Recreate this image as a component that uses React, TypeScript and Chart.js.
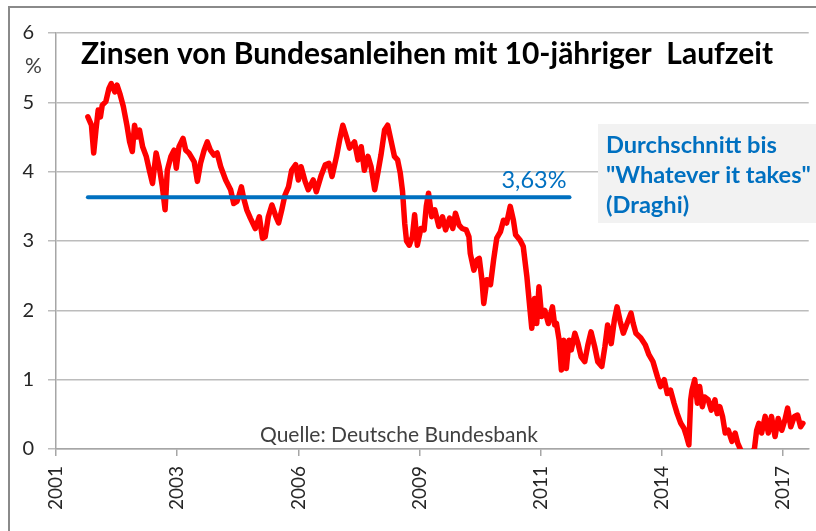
import React, { useEffect, useRef } from 'react';
import { Chart, registerables } from 'chart.js';

Chart.register(...registerables);

// ---- data (decimal years, yield in %) ----
const years: number[] = [
  2001.71, 2001.79, 2001.84, 2001.89, 2001.94, 2001.99, 2002.03, 2002.11, 2002.18, 2002.23,
  2002.31, 2002.36, 2002.43, 2002.50, 2002.58, 2002.64, 2002.70, 2002.75, 2002.80, 2002.86,
  2002.93, 2003.01, 2003.08, 2003.15, 2003.23, 2003.30, 2003.37, 2003.43, 2003.48, 2003.56,
  2003.63, 2003.68, 2003.74, 2003.83, 2003.89, 2003.96, 2004.08, 2004.15, 2004.22, 2004.30,
  2004.37, 2004.44, 2004.52, 2004.59, 2004.67, 2004.78, 2004.89, 2004.96, 2005.03, 2005.07,
  2005.13, 2005.18, 2005.25, 2005.33, 2005.44, 2005.53, 2005.60, 2005.66, 2005.73, 2005.81,
  2005.90, 2005.96, 2006.03, 2006.10, 2006.18, 2006.25, 2006.34, 2006.40, 2006.46, 2006.55,
  2006.62, 2006.73, 2006.80, 2006.91, 2007.00, 2007.08, 2007.15, 2007.25, 2007.32, 2007.39,
  2007.47, 2007.54, 2007.65, 2007.73, 2007.80, 2007.87, 2007.95, 2008.02, 2008.10, 2008.17,
  2008.24, 2008.32, 2008.39, 2008.46, 2008.54, 2008.61, 2008.67, 2008.72, 2008.77, 2008.81,
  2008.87, 2008.94, 2008.99, 2009.05, 2009.13, 2009.20, 2009.25, 2009.30, 2009.37, 2009.44,
  2009.53, 2009.61, 2009.68, 2009.77, 2009.84, 2009.90, 2009.98, 2010.05, 2010.14, 2010.20,
  2010.23, 2010.31, 2010.38, 2010.43, 2010.49, 2010.53, 2010.60, 2010.68, 2010.75, 2010.82,
  2010.90, 2010.97, 2011.04, 2011.12, 2011.19, 2011.24, 2011.34, 2011.41, 2011.49, 2011.54,
  2011.60, 2011.66, 2011.71, 2011.76, 2011.82, 2011.89, 2011.97, 2012.06, 2012.11, 2012.15,
  2012.21, 2012.26, 2012.31, 2012.37, 2012.43, 2012.48, 2012.56, 2012.63, 2012.70, 2012.78,
  2012.85, 2012.92, 2013.00, 2013.07, 2013.16, 2013.23, 2013.29, 2013.37, 2013.44, 2013.50,
  2013.57, 2013.64, 2013.71, 2013.81, 2013.86, 2013.92, 2014.03, 2014.13, 2014.21, 2014.30,
  2014.40, 2014.47, 2014.55, 2014.62, 2014.69, 2014.77, 2014.84, 2014.92, 2014.99, 2015.04,
  2015.10, 2015.14, 2015.17, 2015.23, 2015.29, 2015.34, 2015.40, 2015.45, 2015.53, 2015.60,
  2015.68, 2015.73, 2015.79, 2015.85, 2015.91, 2015.98, 2016.06, 2016.13, 2016.19, 2016.28,
  2016.39, 2016.50, 2016.56, 2016.61, 2016.66, 2016.72, 2016.80, 2016.87, 2016.94, 2017.02,
  2017.09, 2017.17, 2017.24, 2017.30, 2017.37, 2017.45, 2017.52, 2017.59, 2017.64,
];

const yields: number[] = [
  4.79, 4.67, 4.27, 4.60, 4.89, 4.79, 4.96, 5.01, 5.20, 5.27,
  5.15, 5.25, 5.11, 4.94, 4.67, 4.43, 4.29, 4.67, 4.50, 4.60,
  4.36, 4.22, 4.02, 3.83, 4.27, 4.07, 3.78, 3.45, 4.02, 4.22,
  4.31, 4.05, 4.36, 4.48, 4.31, 4.27, 4.14, 3.86, 4.12, 4.31,
  4.43, 4.31, 4.24, 4.27, 4.07, 3.88, 3.74, 3.54, 3.57, 3.64,
  3.78, 3.62, 3.45, 3.33, 3.18, 3.35, 3.04, 3.06, 3.35, 3.52,
  3.35, 3.26, 3.45, 3.66, 3.78, 4.02, 4.10, 3.88, 4.07, 3.86,
  3.74, 3.88, 3.71, 3.95, 4.10, 4.12, 3.93, 4.22, 4.46, 4.67,
  4.50, 4.34, 4.43, 4.17, 4.36, 4.02, 4.22, 4.07, 3.74, 3.98,
  4.24, 4.60, 4.67, 4.46, 4.22, 4.17, 3.98, 3.72, 3.25, 3.00,
  2.94, 3.06, 3.38, 2.94, 3.18, 3.16, 3.50, 3.69, 3.35, 3.45,
  3.21, 3.35, 3.16, 3.33, 3.18, 3.40, 3.23, 3.18, 3.16, 3.06,
  2.82, 2.58, 2.73, 2.75, 2.44, 2.10, 2.44, 2.37, 2.73, 3.04,
  3.13, 3.30, 3.26, 3.50, 3.30, 3.09, 3.01, 2.92, 2.49, 2.15,
  1.74, 2.17, 1.81, 2.34, 1.91, 2.00, 1.81, 2.05, 1.79, 1.81,
  1.57, 1.14, 1.57, 1.16, 1.57, 1.43, 1.67, 1.52, 1.33, 1.26,
  1.50, 1.69, 1.48, 1.26, 1.19, 1.48, 1.79, 1.52, 1.86, 2.05,
  1.84, 1.67, 1.79, 1.96, 1.81, 1.67, 1.60, 1.50, 1.36, 1.26,
  1.04, 0.90, 1.00, 0.80, 0.85, 0.66, 0.51, 0.37, 0.30, 0.20,
  0.06, 0.71, 0.85, 1.00, 0.66, 0.90, 0.61, 0.75, 0.71, 0.56,
  0.71, 0.51, 0.61, 0.47, 0.23, 0.27, 0.11, 0.23, 0.08, -0.05,
  -0.15, -0.05, 0.00, 0.27, 0.37, 0.23, 0.47, 0.23, 0.47, 0.18,
  0.44, 0.27, 0.42, 0.59, 0.32, 0.47, 0.49, 0.32, 0.37,
];

const averageValue = 3.63;
const averageStart = 2001.71;
const averageEnd = 2012.44;

const xTickValues: number[] = [2001, 2003.7, 2006.4, 2009.1, 2011.8, 2014.5, 2017.2];
const xTickLabels: string[] = ['2001', '2003', '2006', '2009', '2011', '2014', '2017'];
const yTickValues: number[] = [0, 1, 2, 3, 4, 5, 6];

const titleText = 'Zinsen von Bundesanleihen mit 10-jähriger  Laufzeit';
const noteLines: string[] = ['Durchschnitt bis', '"Whatever it takes"', '(Draghi)'];
const averageLabel = '3,63%';
const sourceText = 'Quelle: Deutsche Bundesbank';
const unitText = '%';

const FONT = 'Lato, "Liberation Sans", Arial, sans-serif';
const BLUE = '#0070C0';

function fittedFont(ctx: CanvasRenderingContext2D, text: string, weight: string, width: number) {
  ctx.font = `${weight} 20px ${FONT}`;
  const w = ctx.measureText(text).width;
  const size = (20 * width) / w;
  return `${weight} ${size.toFixed(2)}px ${FONT}`;
}

const overlayPlugin = {
  id: 'overlay',
  afterDraw(chart: any) {
    const ctx: CanvasRenderingContext2D = chart.ctx;
    const xs = chart.scales.x;
    const ys = chart.scales.y;
    ctx.save();
    ctx.textAlign = 'left';
    ctx.textBaseline = 'alphabetic';

    // note box
    ctx.fillStyle = '#f2f2f2';
    ctx.fillRect(598, 124, 230, 99);
    ctx.fillStyle = BLUE;
    const noteFont = fittedFont(ctx, noteLines[1], 'bold', 205);
    noteLines.forEach((line, i) => {
      ctx.font = noteFont;
      ctx.fillText(line, 606, 153 + i * 30);
    });

    // average label
    ctx.font = fittedFont(ctx, averageLabel, 'normal', 65);
    ctx.textAlign = 'right';
    ctx.fillText(averageLabel, xs.getPixelForValue(averageEnd) - 3, ys.getPixelForValue(averageValue) - 9);
    ctx.textAlign = 'left';

    // title
    ctx.fillStyle = '#000000';
    ctx.font = fittedFont(ctx, titleText, 'bold', 692);
    ctx.fillText(titleText, 81, 64);

    // source
    ctx.fillStyle = '#404040';
    ctx.font = fittedFont(ctx, sourceText, 'normal', 278);
    ctx.fillText(sourceText, 260, 442);

    // unit
    ctx.fillStyle = '#404040';
    ctx.font = `normal 21px ${FONT}`;
    ctx.fillText(unitText, 25, 73);

    // outer frame
    ctx.strokeStyle = '#8a8a8a';
    ctx.lineWidth = 2;
    ctx.strokeRect(9, 7, 900, 600);
    ctx.restore();
  },
};

export default function App() {
  const canvasRef = useRef<HTMLCanvasElement | null>(null);

  useEffect(() => {
    document.body.style.margin = '0';
    const canvas = canvasRef.current;
    if (!canvas) return;

    const redPoints = years.map((x, i) => ({ x, y: yields[i] }));
    const bluePoints = [
      { x: averageStart, y: averageValue },
      { x: averageEnd, y: averageValue },
    ];

    const chart = new Chart(canvas, {
      type: 'line',
      data: {
        datasets: [
          {
            label: 'Durchschnitt',
            data: bluePoints,
            borderColor: BLUE,
            borderWidth: 4,
            borderCapStyle: 'round',
            pointRadius: 0,
            fill: false,
          },
          {
            label: 'Rendite',
            data: redPoints,
            borderColor: '#ff0000',
            borderWidth: 5.5,
            borderJoinStyle: 'round',
            borderCapStyle: 'round',
            pointRadius: 0,
            tension: 0,
            fill: false,
            clip: { left: 10, top: 10, right: 10, bottom: 0 },
          } as any,
        ],
      },
      options: {
        animation: false,
        responsive: false,
        devicePixelRatio: 1,
        layout: { padding: { top: 33, right: 2, left: 0, bottom: 0 } },
        plugins: {
          legend: { display: false },
          tooltip: { enabled: false },
          title: { display: false },
        },
        scales: {
          x: {
            type: 'linear',
            min: 2001,
            max: 2017.77,
            afterBuildTicks: (scale: any) => {
              scale.ticks = xTickValues.map((v) => ({ value: v }));
            },
            afterFit: (scale: any) => {
              scale.height = 82;
            },
            ticks: {
              autoSkip: false,
              minRotation: 90,
              maxRotation: 90,
              padding: 10,
              color: '#262626',
              font: { family: FONT, size: 19 },
              callback: (v: any) => {
                const i = xTickValues.indexOf(Number(v));
                return i >= 0 ? xTickLabels[i] : '';
              },
            },
            grid: {
              drawOnChartArea: false,
              drawTicks: true,
              tickLength: 7,
              color: '#a6a6a6',
              lineWidth: 1.5,
            },
            border: { display: true, color: '#a6a6a6', width: 1.5 },
          },
          y: {
            type: 'linear',
            min: 0,
            max: 6,
            afterBuildTicks: (scale: any) => {
              scale.ticks = yTickValues.map((v) => ({ value: v }));
            },
            afterFit: (scale: any) => {
              scale.width = 56;
            },
            ticks: {
              padding: 14,
              color: '#262626',
              font: { family: FONT, size: 20 },
              callback: (v: any) => String(v),
            },
            grid: {
              color: '#bcbcbc',
              lineWidth: 1.5,
              tickLength: 8,
              drawTicks: true,
            },
            border: { display: true, color: '#a6a6a6', width: 1.5 },
          },
        },
      },
      plugins: [overlayPlugin],
    } as any);

    return () => {
      chart.destroy();
    };
  }, []);

  return (
    <div style={{ width: 816, height: 531, position: 'relative', background: '#ffffff' }}>
      <canvas ref={canvasRef} width={816} height={531} style={{ display: 'block' }} />
    </div>
  );
}
